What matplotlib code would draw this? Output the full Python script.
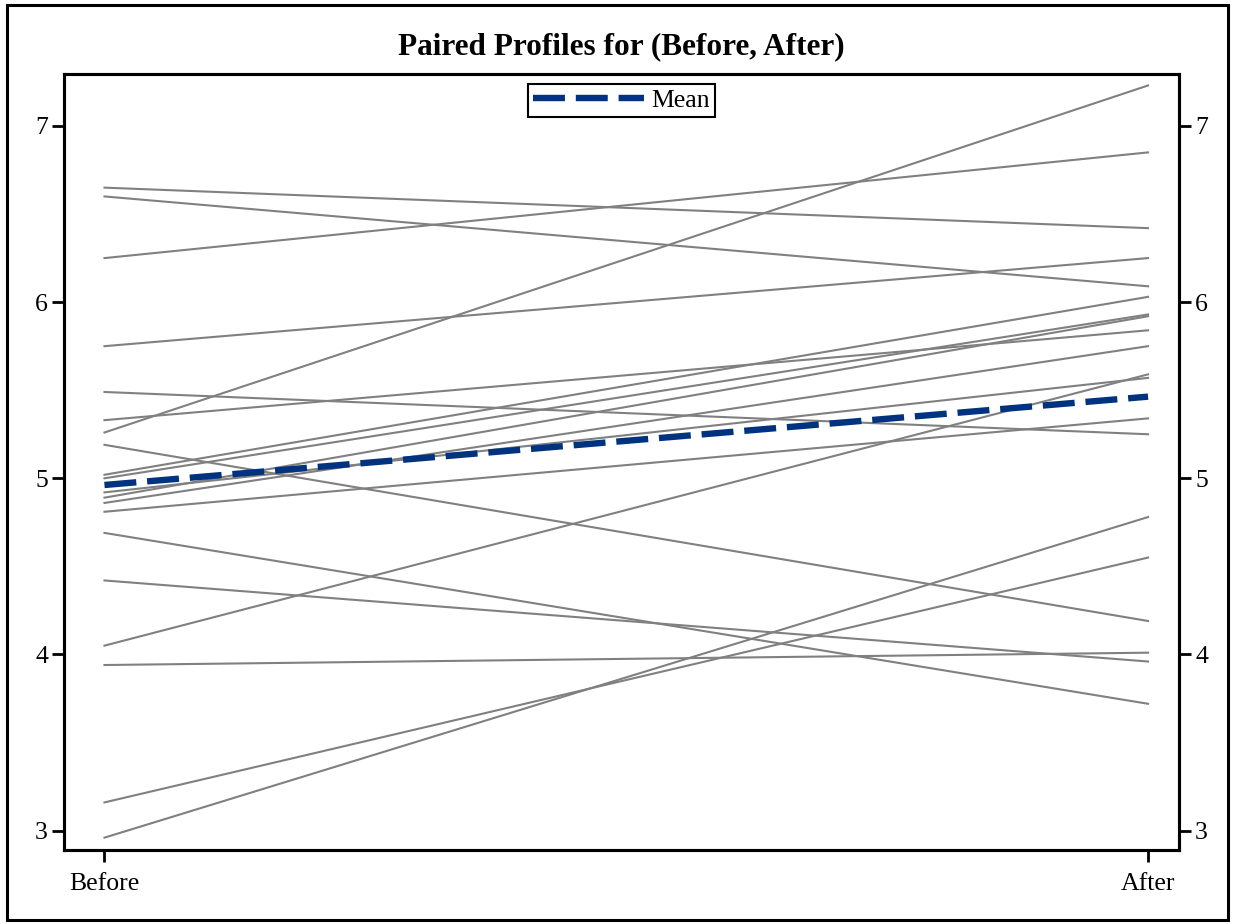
import numpy as np
import matplotlib
matplotlib.use('Agg')
import matplotlib.pyplot as plt
from matplotlib.patches import Rectangle

before = [6.65, 6.60, 6.25, 5.75, 5.26, 5.49, 5.33, 5.19, 4.69, 4.42,
          3.94, 4.05, 3.16, 2.96, 5.02, 5.00, 4.89, 4.86, 4.81, 4.92]
after = [6.42, 6.09, 6.85, 6.25, 7.23, 5.25, 5.84, 4.19, 3.72, 3.96,
         4.01, 5.59, 4.55, 4.78, 6.03, 5.93, 5.92, 5.75, 5.34, 5.57]
conditions = ['Before', 'After']
yticks = [3, 4, 5, 6, 7]

plt.rcParams['font.family'] = ['Liberation Serif', 'DejaVu Serif']

fig = plt.figure(figsize=(12.35, 9.24), dpi=100)
ax = fig.add_axes([0.0518, 0.0801, 0.9029, 0.8398])

xpos = np.arange(len(conditions))
for b, a in zip(before, after):
    ax.plot(xpos, [b, a], color='#808080', lw=1.5, zorder=2)

mean_vals = [np.mean(before), np.mean(after)]
ax.plot(xpos, mean_vals, color='#00337f', lw=4.6, dashes=(5, 1.7),
        label='Mean', zorder=3)

ax.set_xlim(-0.0388, 1.0297)
ax.set_ylim(2.89, 7.295)
ax.set_xticks(xpos)
ax.set_xticklabels(conditions)
ax.set_yticks(yticks)

for s in ax.spines.values():
    s.set_linewidth(2.2)
ax.tick_params(axis='both', direction='out', length=8.5, width=2,
               labelsize=18.5)
ax.tick_params(axis='x', pad=8)
ax.tick_params(axis='y', pad=3)

ax2 = ax.twinx()
ax2.set_ylim(ax.get_ylim())
ax2.set_yticks(yticks)
ax2.tick_params(axis='y', direction='out', length=8.5, width=2,
                labelsize=18.5, pad=3)
for s in ax2.spines.values():
    s.set_linewidth(2.2)

ax.set_title('Paired Profiles for (Before, After)', fontsize=22.5,
             fontweight='bold', pad=14)

leg = ax.legend(loc='upper center', bbox_to_anchor=(0.5, 0.987),
                borderaxespad=0, fontsize=18.5, handlelength=4.3,
                borderpad=0.2, handletextpad=0.3, fancybox=False,
                framealpha=1)
leg.get_frame().set_edgecolor('black')
leg.get_frame().set_linewidth(1.5)

fig.patches.append(Rectangle((7 / 1235, 4 / 924), 1221 / 1235, 915 / 924,
                             transform=fig.transFigure, fill=False,
                             edgecolor='black', lw=2.2))

fig.savefig('out.png', dpi=100)
